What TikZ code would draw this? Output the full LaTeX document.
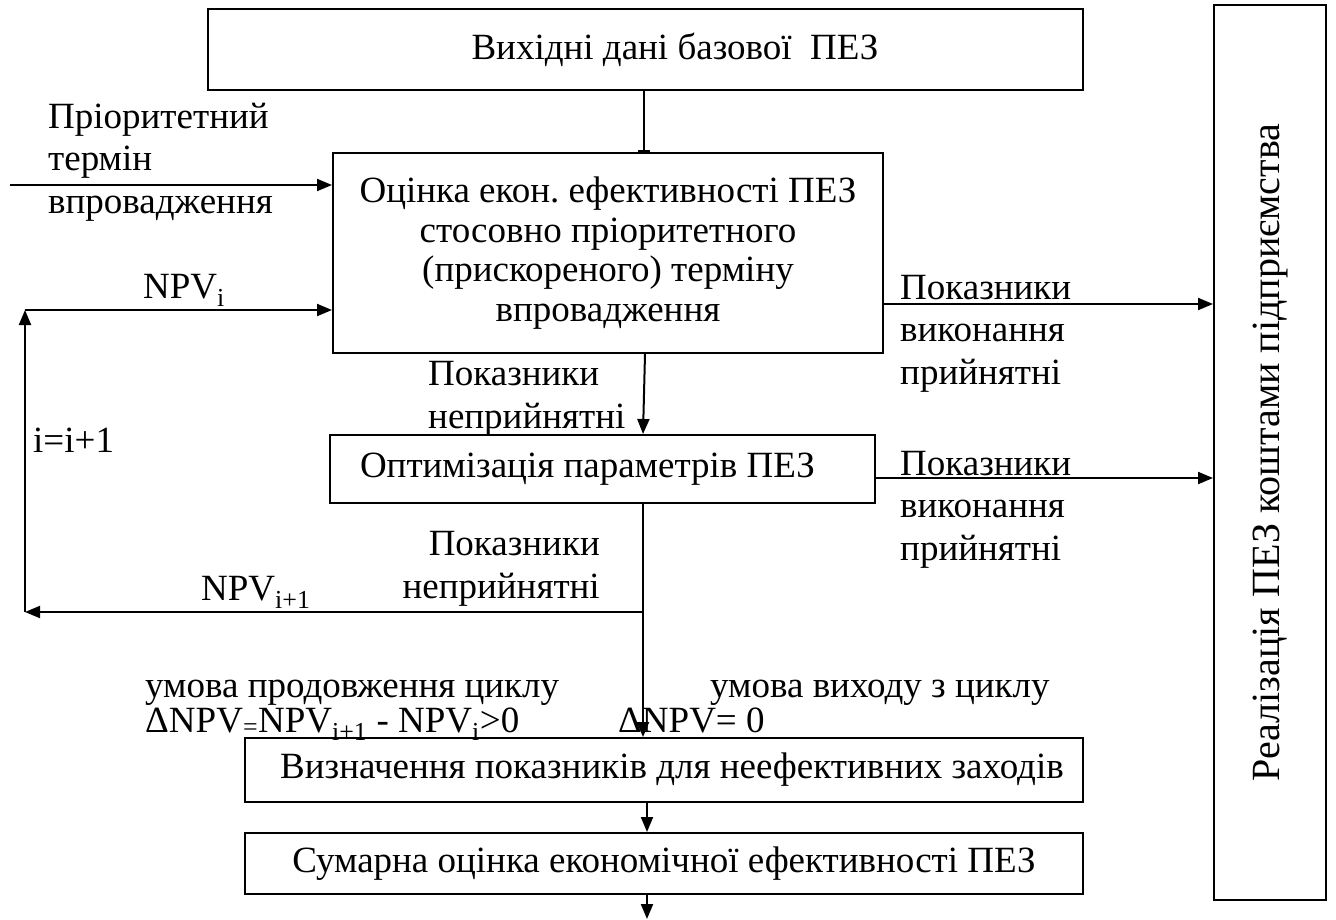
\documentclass[tikz,border=0pt]{standalone}
\usepackage{fontspec}
\setmainfont{Liberation Serif}
\usetikzlibrary{arrows.meta}
\frenchspacing
\begin{document}
\begin{tikzpicture}[x=1pt,y=-1pt,
  every node/.style={font=\fontsize{37}{42.5}\selectfont},
  box/.style={draw, line width=2pt, inner sep=0pt, align=center},
  conn/.style={line width=2pt, -{Triangle[length=15pt,width=12pt]}},
  tconn/.style={line width=2pt, -{Bar[width=12pt]}},
  lbl/.style={inner sep=0pt, anchor=base west, align=left},
  lblr/.style={inner sep=0pt, anchor=base east, align=right}]
\useasboundingbox (0,0) rectangle (1336,919);
% boxes
\node[box, minimum width=875, minimum height=81] (b1) at (645.5,49.5) {\hspace*{59pt}Вихідні дані базової\ \ ПЕЗ};
\node[box, minimum width=550, minimum height=200, font=\fontsize{37}{39.5}\selectfont] (b2) at (608,253)
  {Оцінка екон. ефективності ПЕЗ\\стосовно пріоритетного\\(прискореного) терміну\\впровадження};
\node[box, minimum width=545, minimum height=68] (b3) at (602.5,469) {Оптимізація параметрів ПЕЗ\hspace*{30pt}};
\node[box, minimum width=838, minimum height=64] (b4) at (664,770) {\hspace*{16pt}Визначення показників для неефективних заходів};
\node[box, minimum width=838, minimum height=61] (b5) at (664,863.5) {Сумарна оцінка економічної ефективності ПЕЗ};
\node[box, minimum width=112, minimum height=895, font=\fontsize{40}{44}\selectfont] (R) at (1270,452.5) {\rotatebox{90}{Реалізація ПЕЗ коштами підприємства}};
% helper coordinates
\coordinate (xa) at (644,0);
\coordinate (xb) at (645,0);
\coordinate (xc) at (643,0);
\coordinate (xd) at (647,0);
\coordinate (in0) at (10,185);
\coordinate (fbL) at (25,612);
\coordinate (fbT) at (25,310);
\coordinate (br) at (643,612);
\coordinate (r1) at (0,304);
\coordinate (r2) at (0,478);
\coordinate (bot) at (647,919);
% connectors
\draw[tconn] (b1.south -| xa) -- (b2.north -| xa);
\draw[conn] (in0) -- (in0 -| b2.west);
\draw[conn] (b2.south -| xb) -- (b3.north -| xc);
\draw[conn] (b2.east |- r1) -- (R.west |- r1);
\draw[conn] (b3.east |- r2) -- (R.west |- r2);
\draw[conn] (b3.south -| br) -- (b4.north -| br);
\draw[conn] (br) -- (fbL);
\draw[conn] (fbL) -- (fbT);
\draw[conn] (fbT) -- (fbT -| b2.west);
\draw[conn] (b4.south -| xd) -- (b5.north -| xd);
\draw[conn] (b5.south -| xd) -- (bot);
% labels (base anchor = baseline of the last line)
\node[lbl] (lp) at (48,213) {Пріоритетний\\термін\\впровадження};
\node[lbl] (npvi) at (143,298) {NPV\textsubscript{i}};
\node[lbl] (ii) at (33,452) {i=i+1};
\node[lbl] (ok1) at (900,384) {Показники\\виконання\\прийнятні};
\node[lbl] (no1) at (428,428) {Показники\\неприйнятні};
\node[lbl] (ok2) at (900,560) {Показники\\виконання\\прийнятні};
\node[lblr] (no2) at (600,598) {Показники\\неприйнятні};
\node[lbl] (npvi1) at (201,600) {NPV\textsubscript{i+1}};
\node[lbl] (c1) at (145,697) {умова продовження циклу};
\node[lbl] (c2) at (145,732) {ΔNPV\textsubscript{=}NPV\textsubscript{i+1} - NPV\textsubscript{i}>0};
\node[lbl] (e1) at (710,697) {умова виходу з циклу};
\node[lbl] (e2) at (618,732) {ΔNPV= 0};
\end{tikzpicture}
\end{document}
